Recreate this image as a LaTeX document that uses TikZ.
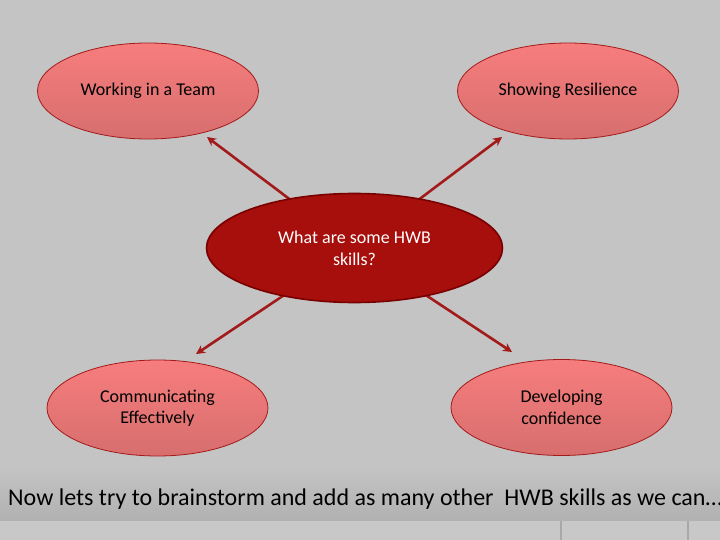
\documentclass[tikz,border=0pt]{standalone}
\usepackage{fontspec}
\setmainfont{Carlito}
\usetikzlibrary{arrows.meta,shapes.geometric}
\definecolor{bgtop}{HTML}{C4C4C4}
\definecolor{bgband}{HTML}{B1B1B1}
\definecolor{bgstrip}{HTML}{C8C8C8}
\definecolor{stripline}{HTML}{A8A8A8}
\definecolor{pinktop}{HTML}{F77D7D}
\definecolor{pinkbot}{HTML}{D76E6E}
\definecolor{pinkedge}{HTML}{A31A1A}
\definecolor{hubfill}{HTML}{A60F0B}
\definecolor{hubedge}{HTML}{780000}
\definecolor{arrowred}{HTML}{A21A1A}
\tikzset{
  skill/.style={ellipse, draw=pinkedge, line width=0.8pt, top color=pinktop, bottom color=pinkbot,
    minimum width=221pt, minimum height=96pt, inner sep=0pt, font=\fontsize{18}{21.5}\selectfont,
    text=black, align=center},
  hub/.style={ellipse, draw=hubedge, line width=1.6pt, fill=hubfill,
    minimum width=296pt, minimum height=109pt, inner sep=0pt, font=\fontsize{18}{22}\selectfont,
    text=white, align=center},
  link/.style={draw=arrowred, line width=2.6pt, -{Stealth[length=9pt,width=9pt]}},
  caption/.style={anchor=base west, inner sep=0pt, font=\fontsize{24}{28}\selectfont, text=black}
}
\begin{document}
\begin{tikzpicture}[x=1pt,y=-1pt]
\useasboundingbox (0,0) rectangle (720,540);
% background
\fill[bgtop] (0,0) rectangle (720,465);
\shade[top color=bgtop, bottom color=bgband] (0,465) rectangle (720,521);
\fill[bgstrip] (0,521) rectangle (720,540);
\draw[stripline, line width=1.2pt] (561,521) -- (561,540);
\draw[stripline, line width=1.2pt] (688,521) -- (688,540);
% connector ends
\coordinate (hubc) at (354.5,248);
\coordinate (tlend) at (207,137);
\coordinate (trend) at (502,137);
\coordinate (blend) at (196,354);
\coordinate (brend) at (512,352);
\draw[link] (hubc) -- (tlend);
\draw[link] (hubc) -- (trend);
\draw[link] (hubc) -- (blend);
\draw[link] (hubc) -- (brend);
% nodes
\node[hub] (hub) at (hubc) {What are some HWB\\skills?};
\node[skill] (team) at (148,91) {Working in a Team};
\node[skill] (resil) at (568,91) {Showing Resilience};
\node[skill] (comm) at (157.5,408) {Communicating\\Effectively};
\node[skill] (conf) at (561.5,407.5) {Developing\\confidence};
\node[caption] (note) at (8,505) {Now lets try to brainstorm and add as many other\ \ HWB skills as we can…};
\end{tikzpicture}
\end{document}
